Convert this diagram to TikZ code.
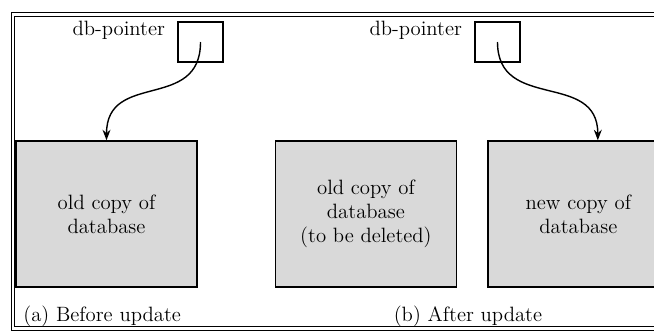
\documentclass[tikz,border=0pt]{standalone}
\usepackage{tikz}
\usetikzlibrary{positioning,calc,arrows.meta}

\tikzset{
  dbbox/.style={draw,line width=0.8pt,fill=black!15,minimum width=3.62cm,minimum height=2.92cm,align=center,inner sep=2pt},
  ptrbox/.style={draw,line width=0.7pt,minimum width=0.9cm,minimum height=0.8cm},
  ptrlabel/.style={anchor=north east,inner sep=0pt},
  ptrarrow/.style={line width=0.8pt,-{Stealth[length=6pt,width=4.5pt]}}
}

\begin{document}
\begin{tikzpicture}[font=\fontsize{11.8}{13.7}\selectfont]
    \useasboundingbox (0,0) rectangle (13.08,6.6);
    \clip (0,0) rectangle (13.08,6.6);

    % Draw frame (open to the right)
    \draw[line width=0.6pt,double,double distance=1.2pt] (14,6.31) -- (0.26,6.31) -- (0.26,0.03) -- (14,0.03);

    % Draw database copies
    \node[dbbox] (oldA) at (2.13,2.32) {old copy of\\database};
    \node[dbbox,right=1.54cm of oldA] (oldB) {old copy of\\database\\(to be deleted)};
    \node[dbbox,right=0.6cm of oldB] (newB) {new copy of\\database};

    % Draw pointers
    \node[ptrbox] (ptrA) at (4.01,5.76) {};
    \node[ptrbox] (ptrB) at (9.95,5.76) {};
    \node[ptrlabel] (lblA) at ($(ptrA.north west)+(-0.24,0.02)$) {db-pointer};
    \node[ptrlabel] (lblB) at ($(ptrB.north west)+(-0.24,0.02)$) {db-pointer};

    % Draw arrows
    \coordinate[right=0.39cm of newB.north] (tipB);
    \draw[ptrarrow] (ptrA.center) .. controls +(0,-1.4) and +(0,1.4) .. (oldA.north);
    \draw[ptrarrow] (ptrB.center) .. controls +(0,-1.4) and +(0,1.4) .. (tipB);

    % Draw captions
    \node[anchor=base west,inner sep=0pt] (capA) at (0.46,0.17) {(a) Before update};
    \node[anchor=base,inner sep=0pt] (capB) at (9.36,0.17) {(b) After update};
\end{tikzpicture}
\end{document}
